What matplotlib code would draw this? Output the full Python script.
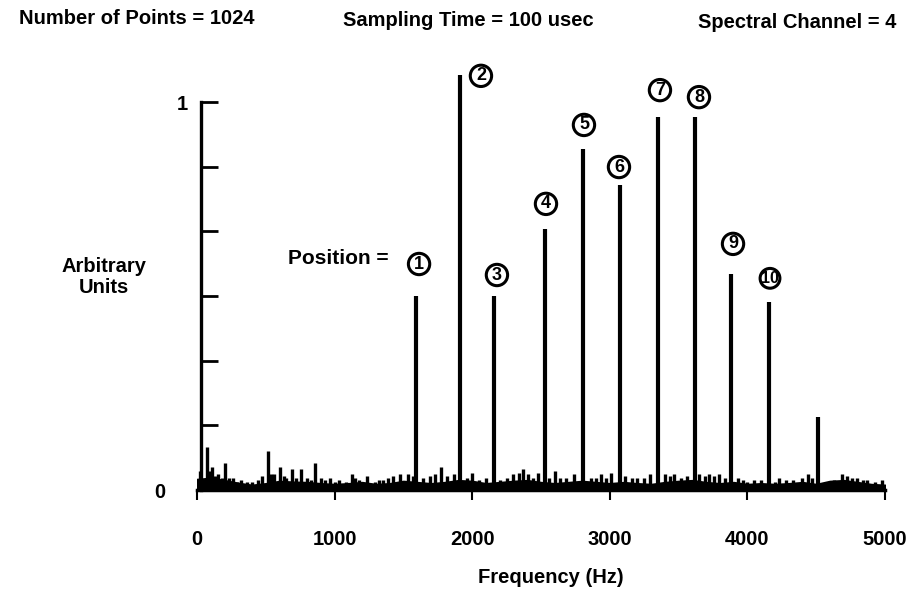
import matplotlib
matplotlib.use("Agg")
import matplotlib.pyplot as plt

# ---- data ----
peak_freqs = [1592, 1911, 2158, 2529, 2805, 3074, 3350, 3619, 3881, 4157, 4513]
peak_heights = [0.50, 1.07, 0.50, 0.673, 0.879, 0.786, 0.961, 0.961, 0.557, 0.485, 0.188]
peak_labels = ["1", "2", "3", "4", "5", "6", "7", "8", "9", "10", ""]

noise_freqs = [20, 73, 90, 109, 130, 150, 180, 203, 230, 260, 290, 320, 360, 400, 440, 470,
               516, 540, 560, 603, 630, 650, 690, 720, 756, 800, 830, 858, 900, 930, 967,
               1000, 1030, 1080, 1126, 1150, 1180, 1235, 1290, 1320, 1350, 1390, 1424, 1475,
               1533, 1570, 1640, 1690, 1730, 1773, 1820, 1870, 1960, 1999, 2050, 2100, 2200,
               2250, 2300, 2340, 2369, 2405, 2440, 2480, 2560, 2602, 2640, 2680, 2740, 2860,
               2900, 2935, 2970, 3010, 3110, 3160, 3200, 3250, 3290, 3400, 3440, 3470, 3520,
               3560, 3650, 3690, 3720, 3760, 3790, 3840, 3930, 3970, 4000, 4050, 4100, 4200,
               4230, 4280, 4330, 4400, 4440, 4470, 4580, 4630, 4688, 4725, 4760, 4800, 4840,
               4870, 4930, 4980]
noise_heights = [0.05, 0.11, 0.05, 0.06, 0.035, 0.04, 0.03, 0.07, 0.03, 0.03, 0.02, 0.025,
                 0.02, 0.02, 0.025, 0.035, 0.10, 0.04, 0.04, 0.06, 0.035, 0.03, 0.055, 0.03,
                 0.055, 0.03, 0.025, 0.07, 0.03, 0.025, 0.03, 0.02, 0.025, 0.02, 0.04, 0.03,
                 0.025, 0.035, 0.02, 0.025, 0.025, 0.03, 0.035, 0.04, 0.04, 0.035, 0.03, 0.035,
                 0.04, 0.06, 0.035, 0.04, 0.03, 0.045, 0.025, 0.03, 0.025, 0.03, 0.04, 0.045,
                 0.055, 0.04, 0.03, 0.045, 0.03, 0.05, 0.03, 0.03, 0.04, 0.03, 0.03, 0.04,
                 0.03, 0.045, 0.035, 0.03, 0.03, 0.03, 0.04, 0.04, 0.035, 0.04, 0.03, 0.035,
                 0.04, 0.035, 0.04, 0.035, 0.04, 0.03, 0.03, 0.025, 0.02, 0.025, 0.025, 0.02,
                 0.03, 0.025, 0.025, 0.03, 0.04, 0.03, 0.02, 0.025, 0.04, 0.035, 0.03, 0.03,
                 0.025, 0.025, 0.02, 0.025]

floor_freqs = list(range(0, 5001, 100))
floor_vals = [0.025, 0.028, 0.022, 0.015, 0.01, 0.014, 0.02, 0.018, 0.017, 0.014, 0.012,
              0.014, 0.017, 0.012, 0.014, 0.02, 0.017, 0.014, 0.017, 0.022, 0.02, 0.014,
              0.017, 0.02, 0.022, 0.017, 0.014, 0.017, 0.02, 0.017, 0.014, 0.017, 0.014,
              0.012, 0.017, 0.02, 0.022, 0.017, 0.014, 0.017, 0.012, 0.014, 0.012, 0.014,
              0.017, 0.012, 0.02, 0.022, 0.017, 0.012, 0.01]

x_ticks = [0, 1000, 2000, 3000, 4000, 5000]
y_ticks = [0, 1/6, 2/6, 3/6, 4/6, 5/6, 1]
y_tick_labels = ["0", "", "", "", "", "", "1"]

# label offsets in pixels (dx, dy) from peak tops
label_offsets = [(3, 34), (21, 1), (3, 23), (1, 27), (1, 26), (-1, 20), (2, 29), (4, 22),
                 (2, 32), (1, 25), (0, 0)]

plt.rcParams['font.family'] = ['Liberation Sans', 'DejaVu Sans']
plt.rcParams['font.weight'] = 'bold'

fig = plt.figure(figsize=(9.14, 5.92), dpi=100)
W, H = 914, 592
x0_px, x1_px = 197, 885
y0_px, y1_px = 490, 102  # y=0 and y=1
ytop = 1.2
top_px = y0_px - ytop * (y0_px - y1_px)
ax = fig.add_axes([x0_px / W, 1 - y0_px / H, (x1_px - x0_px) / W, (y0_px - top_px) / H])
ax.set_xlim(0, 5000)
ax.set_ylim(0, ytop)

k = "black"
ax.fill_between(floor_freqs, 0, floor_vals, color=k, lw=3, edgecolor=k)
ax.vlines(noise_freqs, 0, noise_heights, color=k, lw=2.4)
ax.vlines(peak_freqs, 0, peak_heights, color=k, lw=3.0)

for f, h, lab, (dx, dy) in zip(peak_freqs, peak_heights, peak_labels, label_offsets):
    if lab:
        small = len(lab) > 1
        ax.annotate(lab, (f, h), xytext=(dx, dy), textcoords="offset pixels",
                    ha="center", va="center_baseline", fontsize=11.5 if small else 13,
                    color=k, fontweight='bold', annotation_clip=False,
                    bbox=dict(boxstyle="circle,pad=0.12" if not small else "circle,pad=0.06",
                              fc="white", ec=k, lw=2.2))

for s in ["top", "right"]:
    ax.spines[s].set_visible(False)
ax.spines["left"].set_position(("data", 30))
ax.spines["left"].set_bounds(0, 1)
ax.spines["left"].set_linewidth(2.4)
ax.spines["bottom"].set_bounds(0, 5000)
ax.spines["bottom"].set_linewidth(2.5)

ax.set_yticks(y_ticks, labels=y_tick_labels)
ax.tick_params(axis="y", direction="in", length=12, width=2, pad=9.5, labelsize=14.5)
ax.yaxis.get_major_ticks()[0].set_pad(26)
ax.set_xticks(x_ticks, labels=[str(v) for v in x_ticks])
ax.tick_params(axis="x", direction="out", length=7, width=1.5, pad=22, labelsize=14.5)
for t in ax.get_xticklabels() + ax.get_yticklabels():
    t.set_fontweight("bold")

ax.set_xlabel("Frequency (Hz)", fontsize=14.5, fontweight="bold")
ax.xaxis.set_label_coords((551 - x0_px) / (x1_px - x0_px), (y0_px - 568) / (y0_px - top_px))

fig.text(137 / W, 1 - 19 / H, "Number of Points = 1024", ha="center", va="center",
         fontsize=14.5, fontweight="bold")
fig.text(468 / W, 1 - 21 / H, "Sampling Time = 100 usec", ha="center", va="center",
         fontsize=14.5, fontweight="bold")
fig.text(797 / W, 1 - 23 / H, "Spectral Channel = 4", ha="center", va="center",
         fontsize=14.5, fontweight="bold")
fig.text(104 / W, 1 - 277 / H, "Arbitrary\nUnits", ha="center", va="center",
         fontsize=14.5, fontweight="bold", linespacing=1.1)
fig.text(338 / W, 1 - 259 / H, "Position =", ha="center", va="center",
         fontsize=15, fontweight="bold")

fig.savefig("out.png", dpi=100)
